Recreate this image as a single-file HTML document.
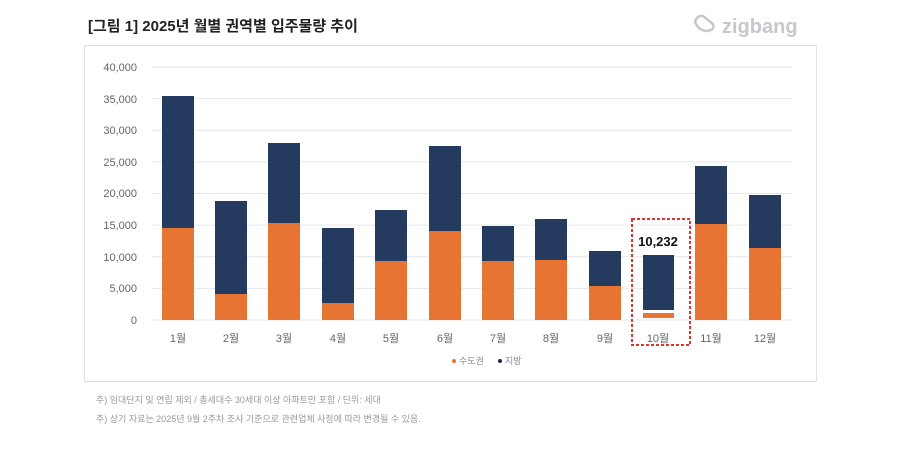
<!DOCTYPE html>
<html><head><meta charset="utf-8"><style>
body{margin:0;background:#fff;width:900px;height:450px;overflow:hidden;font-family:"Liberation Sans","Noto Sans CJK KR",sans-serif}
</style></head><body>
<svg width="900" height="450" xmlns="http://www.w3.org/2000/svg" font-family="Liberation Sans, Noto Sans CJK KR, sans-serif">
<text x="88" y="31" font-size="15" font-weight="bold" fill="#222">[그림 1] 2025년 월별 권역별 입주물량 추이</text>
<g fill="none" stroke="#c5c8cc" stroke-width="2.5"><path d="M695 22 q2 -7 8 -6 l10 8 q2 6 -6 7 q-8 0 -12 -9 z"/></g>
<text x="722" y="33" font-size="20" font-weight="bold" fill="#c5c8cc">zigbang</text>
<rect x="84.5" y="45.5" width="732" height="336" fill="#fff" stroke="#e2e2e2"/>
<g stroke="#e6e6e6" stroke-width="1">
<line x1="152" x2="792" y1="67" y2="67"/><line x1="152" x2="792" y1="98.6" y2="98.6"/>
<line x1="152" x2="792" y1="130.3" y2="130.3"/><line x1="152" x2="792" y1="161.9" y2="161.9"/>
<line x1="152" x2="792" y1="193.5" y2="193.5"/><line x1="152" x2="792" y1="225.1" y2="225.1"/>
<line x1="152" x2="792" y1="256.8" y2="256.8"/><line x1="152" x2="792" y1="288.4" y2="288.4"/>
<line x1="152" x2="792" y1="320" y2="320"/>
</g>
<g font-size="11" fill="#666" text-anchor="end">
<text x="137" y="71">40,000</text><text x="137" y="103">35,000</text><text x="137" y="134">30,000</text>
<text x="137" y="166">25,000</text><text x="137" y="197">20,000</text><text x="137" y="229">15,000</text>
<text x="137" y="261">10,000</text><text x="137" y="292">5,000</text><text x="137" y="324">0</text>
</g>
<g fill="#243a5e">
<rect x="162" y="96" width="32" height="132"/><rect x="215" y="201" width="32" height="93"/>
<rect x="268" y="143" width="32" height="80"/><rect x="322" y="228" width="32" height="75"/>
<rect x="375" y="210" width="32" height="51"/><rect x="429" y="146" width="32" height="85"/>
<rect x="482" y="226" width="32" height="35"/><rect x="535" y="219" width="32" height="41"/>
<rect x="589" y="251" width="32" height="35"/><rect x="643" y="255" width="31" height="55"/>
<rect x="695" y="166" width="32" height="58"/><rect x="749" y="195" width="32" height="53"/>
</g>
<g fill="#e87433">
<rect x="162" y="228" width="32" height="92"/><rect x="215" y="294" width="32" height="26"/>
<rect x="268" y="223" width="32" height="97"/><rect x="322" y="303" width="32" height="17"/>
<rect x="375" y="261" width="32" height="59"/><rect x="429" y="231" width="32" height="89"/>
<rect x="482" y="261" width="32" height="59"/><rect x="535" y="260" width="32" height="60"/>
<rect x="589" y="286" width="32" height="34"/><rect x="643" y="313" width="31" height="5"/>
<rect x="695" y="224" width="32" height="96"/><rect x="749" y="248" width="32" height="72"/>
</g>
<text x="658" y="246" font-size="13" font-weight="bold" fill="#111" text-anchor="middle">10,232</text>
<rect x="632" y="219" width="58" height="126" fill="none" stroke="#e03030" stroke-width="2" stroke-dasharray="3,2"/>
<g font-size="11" fill="#666" text-anchor="middle">
<text x="178" y="342">1월</text><text x="231" y="342">2월</text><text x="284" y="342">3월</text>
<text x="338" y="342">4월</text><text x="391" y="342">5월</text><text x="445" y="342">6월</text>
<text x="498" y="342">7월</text><text x="551" y="342">8월</text><text x="605" y="342">9월</text>
<text x="658" y="342">10월</text><text x="711" y="342">11월</text><text x="765" y="342">12월</text>
</g>
<circle cx="454" cy="361" r="2" fill="#e87433"/><text x="459" y="364" font-size="9" fill="#888">수도권</text>
<circle cx="500" cy="361" r="2" fill="#1a2a4a"/><text x="505" y="364" font-size="9" fill="#888">지방</text>
<text x="96" y="403" font-size="9" fill="#999">주) 임대단지 및 연립 제외 / 총세대수 30세대 이상 아파트만 포함 / 단위: 세대</text>
<text x="96" y="422" font-size="9" fill="#999">주) 상기 자료는 2025년 9월 2주차 조사 기준으로 관련업체 사정에 따라 변경될 수 있음.</text>
</svg>
</body></html>
